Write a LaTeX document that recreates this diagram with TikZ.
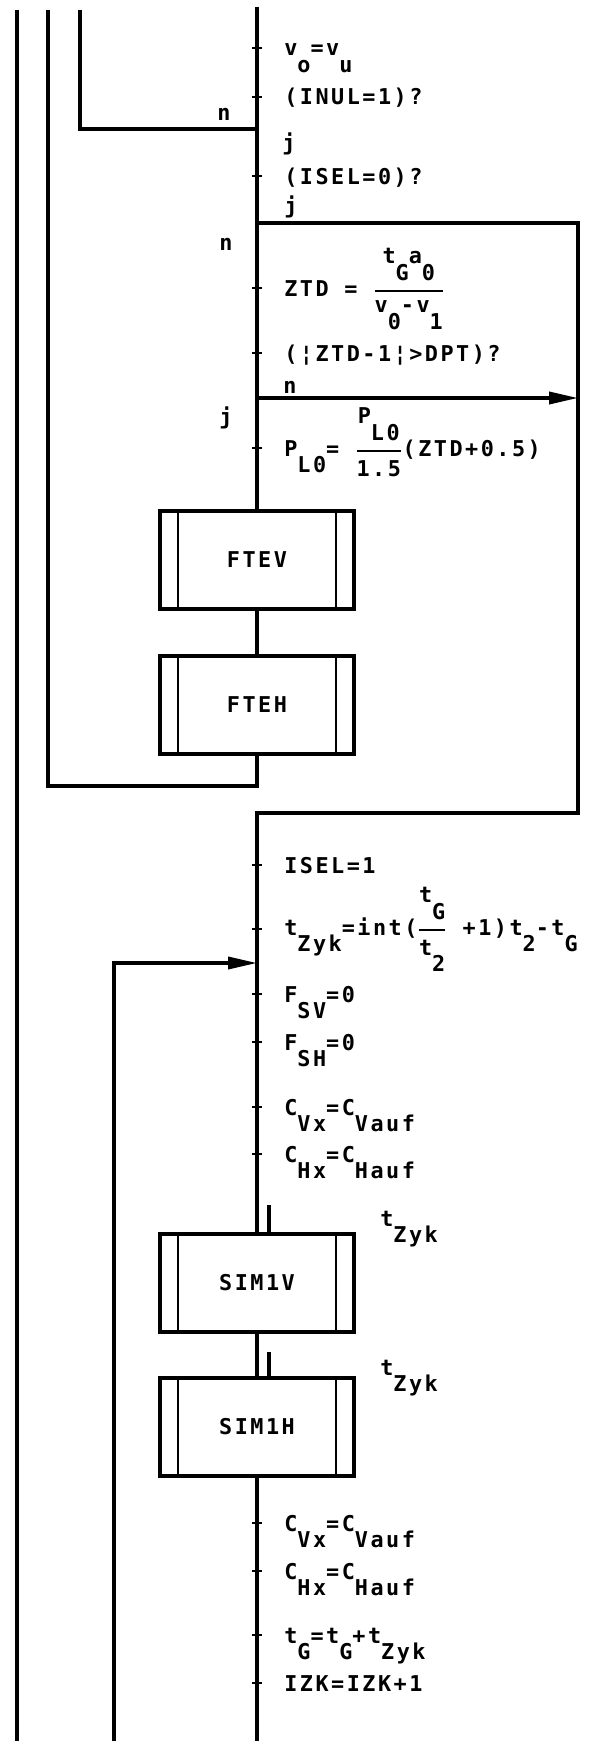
\documentclass[tikz,border=0pt]{standalone}
\usepackage{fontspec}
\newfontfamily\plotfont[LetterSpace=11.5]{DejaVu Sans Mono Bold}
\usetikzlibrary{arrows.meta}
\newcommand\low[1]{\raisebox{-12pt}{#1}}
\newcommand\frc[2]{$\displaystyle{\hbox{#1}\above2pt\hbox{#2}}$}
\tikzset{
  txt/.style={font=\plotfont\fontsize{15.5pt}{18pt}\selectfont, inner sep=0pt},
  stat/.style={txt, anchor=base west},
  lab/.style={txt, anchor=base},
  wire/.style={line width=2.4pt},
  tk/.style={line width=2pt},
  subbox/.style={txt, draw, line width=2.4pt, minimum width=4.85cm, minimum height=2.45cm,
    path picture={
      \draw[line width=2pt] ([xshift=0.45cm]path picture bounding box.north west)
        -- ([xshift=0.45cm]path picture bounding box.south west);
      \draw[line width=2pt] ([xshift=-0.45cm]path picture bounding box.north east)
        -- ([xshift=-0.45cm]path picture bounding box.south east);}},
  arr/.style={wire, -{Triangle[length=0.72cm,width=0.3cm]}}
}

\begin{document}
\begin{tikzpicture}[x=0.025cm, y=-0.025cm]
  \useasboundingbox (0,0) rectangle (601,1741);
  % points on the lines
  \coordinate (a1) at (17,10);   \coordinate (a2) at (17,1741);
  \coordinate (b1) at (48,10);   \coordinate (b2) at (48,786);
  \coordinate (c1) at (80,10);   \coordinate (c2) at (80,129);
  \coordinate (m0) at (257,7);   \coordinate (m1) at (257,129);
  \coordinate (m2) at (257,223); \coordinate (m3) at (257,398);
  \coordinate (r1) at (578,223); \coordinate (r2) at (578,813);
  \coordinate (m4) at (257,813);
  \coordinate (d1) at (114,1741); \coordinate (d2) at (114,963);
  \coordinate (m5) at (257,963); \coordinate (m6) at (257,1741);

  % subroutine boxes
  \node[subbox] (ftev) at (257,560)  {FTEV};
  \node[subbox] (fteh) at (257,705)  {FTEH};
  \node[subbox] (simv) at (257,1283) {SIM1V};
  \node[subbox] (simh) at (257,1427) {SIM1H};

  % statements
  \node[stat] (vo)   at (284,56)   {v\low{o}=v\low{u}};
  \node[stat] (inul) at (284,105)  {(INUL=1)?};
  \node[stat] (isel) at (284,184)  {(ISEL=0)?};
  \node[stat] (ztd)  at (284,296)  {ZTD = \frc{t\low{G}a\low{0}}{v\low{0}-v\low{1}}};
  \node[stat] (dpt)  at (284,361)  {(¦ZTD-1¦>DPT)?};
  \node[stat] (plo)  at (284,456)  {P\low{L0}= \frc{P\low{L0}}{1.5}(ZTD+0.5)};
  \node[stat] (isl)  at (284,873)  {ISEL=1};
  \node[stat] (tzy)  at (284,935)  {t\low{Zyk}=int(\frc{t\low{G}}{t\low{2}}\ +1)t\low{2}-t\low{G}};
  \node[stat] (fsv)  at (284,1002) {F\low{SV}=0};
  \node[stat] (fsh)  at (284,1050) {F\low{SH}=0};
  \node[stat] (cvx)  at (284,1115) {C\low{Vx}=C\low{Vauf}};
  \node[stat] (chx)  at (284,1162) {C\low{Hx}=C\low{Hauf}};
  \node[stat] (cvy)  at (284,1531) {C\low{Vx}=C\low{Vauf}};
  \node[stat] (chy)  at (284,1579) {C\low{Hx}=C\low{Hauf}};
  \node[stat] (tgg)  at (284,1643) {t\low{G}=t\low{G}+t\low{Zyk}};
  \node[stat] (izk)  at (284,1691) {IZK=IZK+1};
  \node[stat] (pv)   at (380,1226) {t\low{Zyk}};
  \node[stat] (ph)   at (380,1375) {t\low{Zyk}};

  % branch labels
  \node[lab] (n1) at (224,121) {n};
  \node[lab] (j1) at (289,151) {j};
  \node[lab] (j2) at (291,214) {j};
  \node[lab] (n2) at (226,250) {n};
  \node[lab] (n3) at (290,393) {n};
  \node[lab] (j3) at (226,424) {j};

  % flow lines
  \draw[wire] (a1) -- (a2);
  \draw[wire] (c1) -- (c2) -- (m1);
  \draw[wire] (m0) -- (ftev.north);
  \draw[wire] (ftev) -- (fteh);
  \draw[wire] (fteh.south) |- (b2) -- (b1);
  \draw[wire] (m2) -- (r1) -- (r2) -- (m4) -- (simv.north);
  \draw[arr] (m3) -- (m3 -| r1);
  \draw[arr] (d1) -- (d2) -- (m5);
  \draw[wire] (simv) -- (simh);
  \draw[wire] (simh.south) -- (m6);
  \draw[wire] ([xshift=0.3cm]simv.north) -- ++(0,-27);
  \draw[wire] ([xshift=0.3cm]simh.north) -- ++(0,-24);
  \foreach \y in {48,97,176,288,353,448,865,929,994,1042,1107,1154,1523,1571,1635,1683}
    \draw[tk] (252,\y) -- (262,\y);
\end{tikzpicture}
\end{document}
